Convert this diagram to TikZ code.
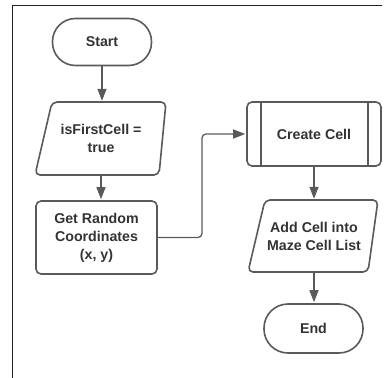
\documentclass[tikz,border=0pt]{standalone}
\usepackage{fontspec}
\setmainfont{Liberation Sans}
\usetikzlibrary{arrows.meta}
\definecolor{edge}{HTML}{5A5A5A}
\definecolor{ink}{HTML}{333333}
\definecolor{frameline}{HTML}{222222}

\begin{document}
\begin{tikzpicture}[x=1pt,y=-1pt,
  lbl/.style={font=\bfseries\fontsize{14.2}{18}\selectfont, text=ink, align=center, inner sep=0pt},
  border/.style={draw=edge, line width=1.6pt, rounded corners=5pt},
  flow/.style={draw=edge, line width=1.3pt, rounded corners=4pt, shorten >=1pt,
    -{Triangle[length=12pt,width=9pt]}}]
\useasboundingbox (0,0) rectangle (392,378);

% page frame (top and left edges)
\draw[frameline, line width=1pt] (382,5) -- (12,5) -- (12,378);

% terminals and process boxes
\node[border, rounded corners=23pt, minimum width=99pt, minimum height=47pt, lbl]
  (start) at (102,42) {Start};
\node[lbl, minimum width=114pt, minimum height=73pt]
  (first) at (101,138.5) {isFirstCell =\\true};
\draw[border] (52,102) -- (166,102) -- (159,175) -- (35,175) -- cycle;

\node[border, lbl, minimum width=121pt, minimum height=73pt]
  (rand) at (96.5,237.5) {Get Random\\Coordinates\\(x, y)};

\node[border, lbl, minimum width=134pt, minimum height=64pt]
  (create) at (314,134) {Create Cell};
\draw[draw=edge, line width=1.6pt]
  ([xshift=15pt]create.north west) -- ([xshift=15pt]create.south west)
  ([xshift=-14pt]create.north east) -- ([xshift=-14pt]create.south east);

\node[lbl, minimum width=110pt, minimum height=72pt]
  (add) at (314,236) {Add Cell into\\Maze Cell List};
\draw[border] (265,200) -- (378,200) -- (368,272) -- (248,272) -- cycle;

\node[border, rounded corners=24pt, minimum width=99pt, minimum height=49pt, lbl]
  (finish) at (313.5,328.5) {End};

% connectors
\coordinate (bend) at (202,0);
\draw[flow] (start.south) -- (start.south |- first.north);
\draw[flow] (first.south) -- (first.south |- rand.north);
\draw[flow] (rand.east) -- (rand.east -| bend) -- (bend |- create.west) -- (create.west);
\draw[flow] (create.south) -- (create.south |- add.north);
\draw[flow] (add.south) -- (add.south |- finish.north);
\end{tikzpicture}
\end{document}
